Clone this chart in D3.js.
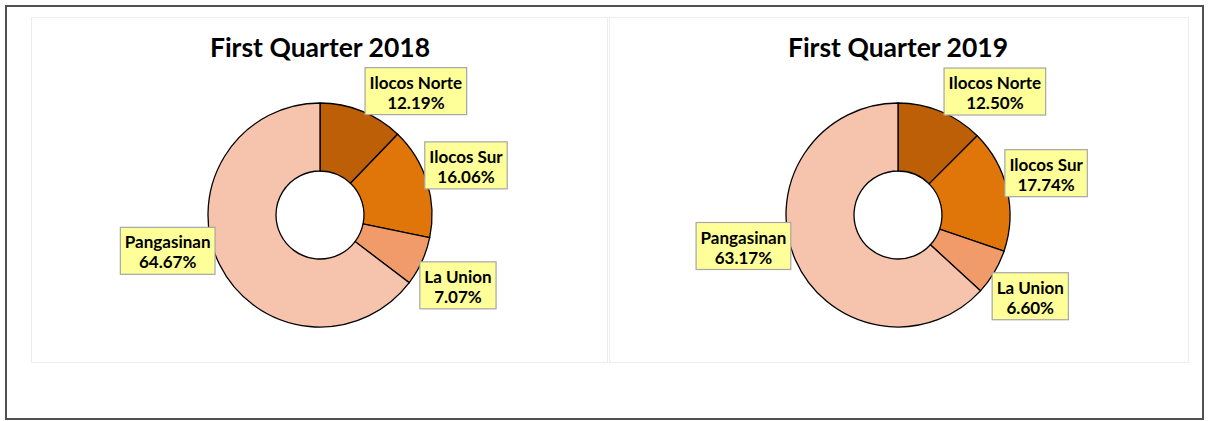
<!doctype html>
<html lang="en">
<head>
	<meta charset="utf-8">
	<title>First Quarter 2018 / 2019</title>
	<script src="https://cdn.jsdelivr.net/npm/d3@7"></script>
	<style>
		body { margin: 0; background: #fff; }
		svg { display: block; font-family: Lato, "Open Sans", sans-serif; }
	</style>
</head>
<body>
	<svg id="chart" width="1213" height="421"></svg>
	<script>
		// data
		var provinces = ["Ilocos Norte", "Ilocos Sur", "La Union", "Pangasinan"];
		var titles = ["First Quarter 2018", "First Quarter 2019"];
		var share2018 = [12.19, 16.06, 7.07, 64.67];
		var share2019 = [12.50, 17.74, 6.60, 63.17];

		var colors = ["#BD5F06", "#E07609", "#F29B6A", "#F6C3AD"];
		// label box nudges from the outer edge of each slice
		var nudgeX = [54, 39, 36, -52];
		var nudgeY = [-20, -16.5, 24, -14];

		var svg = d3.select("#chart");

		// outer frame
		svg.append("rect")
			.attr("x", 6).attr("y", 6)
			.attr("width", 1197).attr("height", 413)
			.attr("fill", "none")
			.attr("stroke", "#505050")
			.attr("stroke-width", 2);

		var panels = [
			{ title: titles[0], values: share2018, x: 31, w: 576, cx: 320 },
			{ title: titles[1], values: share2019, x: 609, w: 579, cx: 898 }
		];

		var outerR = 112, innerR = 44, cy = 215;
		var pie = d3.pie().sort(null).value(function(d) { return d; });
		var arc = d3.arc().innerRadius(innerR).outerRadius(outerR);

		panels.forEach(function(p) {
			svg.append("rect")
				.attr("x", p.x + 0.5).attr("y", 17.5)
				.attr("width", p.w).attr("height", 345)
				.attr("fill", "#fff")
				.attr("stroke", "#EDEDED")
				.attr("stroke-width", 1);

			svg.append("text")
				.attr("x", p.cx).attr("y", 57)
				.attr("text-anchor", "middle")
				.attr("font-size", 26.5)
				.attr("font-weight", "bold")
				.attr("fill", "#000")
				.text(p.title);

			var g = svg.append("g").attr("transform", "translate(" + p.cx + "," + cy + ")");
			var slices = pie(p.values);

			g.selectAll("path")
				.data(slices)
				.enter()
				.append("path")
				.attr("d", arc)
				.attr("fill", function(d, i) { return colors[i]; })
				.attr("stroke", "#000")
				.attr("stroke-width", 1.3);

			slices.forEach(function(d, i) {
				var mid = (d.startAngle + d.endAngle) / 2;
				var px = Math.sin(mid) * outerR + nudgeX[i];
				var py = -Math.cos(mid) * outerR + nudgeY[i];
				var lg = g.append("g").attr("transform", "translate(" + px + "," + py + ")");
				var box = lg.append("rect")
					.attr("fill", "#FFFF99")
					.attr("stroke", "#A6A6A6")
					.attr("stroke-width", 1.2);
				var t1 = lg.append("text")
					.attr("y", -2.5)
					.attr("text-anchor", "middle")
					.attr("font-size", 17)
					.attr("font-weight", "bold")
					.attr("fill", "#000")
					.text(provinces[i]);
				var t2 = lg.append("text")
					.attr("y", 17.5)
					.attr("text-anchor", "middle")
					.attr("font-size", 17)
					.attr("font-weight", "bold")
					.attr("fill", "#000")
					.text(d.data.toFixed(2) + "%");
				var w = Math.max(t1.node().getComputedTextLength(), t2.node().getComputedTextLength()) + 9;
				box.attr("x", -w / 2).attr("y", -23.5).attr("width", w).attr("height", 47);
			});
		});
	</script>
</body>
</html>
